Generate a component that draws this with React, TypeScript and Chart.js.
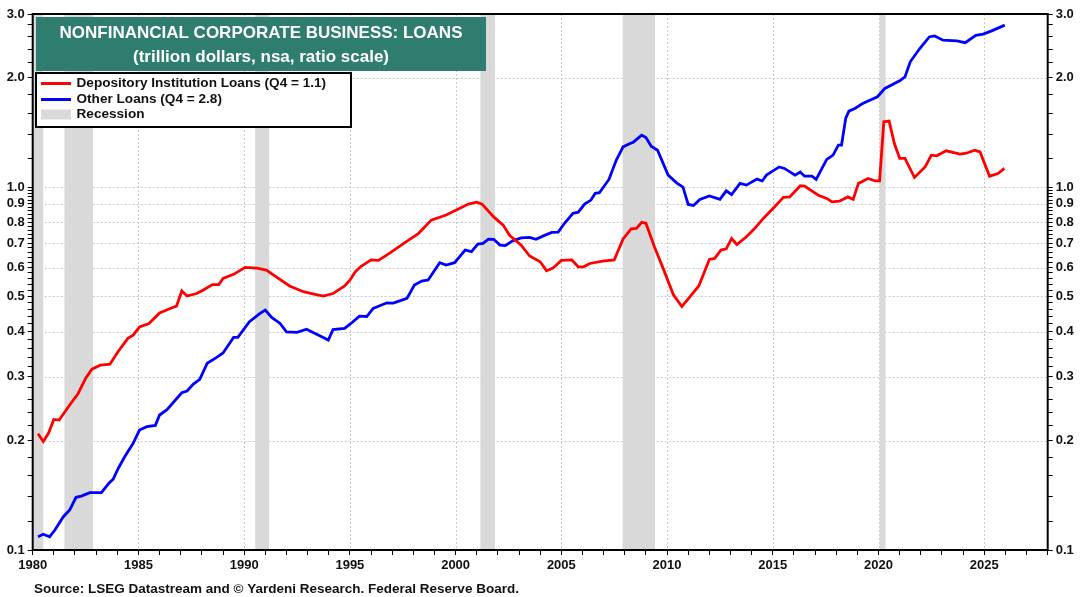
import React, { useEffect, useRef } from "react";
import { Chart, registerables } from "chart.js";

Chart.register(...registerables);

// ---------- DATA ----------
const depYears = [
  1980.25, 1980.5, 1980.75, 1981.0, 1981.25, 1981.75, 1982.15, 1982.5, 1982.8, 1983.2,
  1983.65, 1984.05, 1984.5, 1984.75, 1985.05, 1985.5, 1986.0, 1986.5, 1986.8, 1987.05,
  1987.3, 1987.75, 1988.05, 1988.5, 1988.8, 1989.0, 1989.5, 1990.05, 1990.6, 1991.05,
  1991.55, 1992.15, 1992.8, 1993.35, 1993.75, 1994.2, 1994.75, 1995.0, 1995.25, 1995.5,
  1996.0, 1996.35, 1996.9, 1997.6, 1998.25, 1998.85, 1999.55, 2000.2, 2000.6, 2001.0,
  2001.25, 2001.8, 2002.25, 2002.55, 2003.1, 2003.5, 2004.0, 2004.3, 2004.6, 2005.0,
  2005.5, 2005.8, 2006.05, 2006.35, 2006.95, 2007.5, 2007.92, 2008.3, 2008.55, 2008.8,
  2009.0, 2009.4, 2009.8, 2010.3, 2010.7, 2011.0, 2011.5, 2012.0, 2012.25, 2012.55,
  2012.8, 2013.05, 2013.3, 2013.75, 2014.15, 2014.55, 2015.1, 2015.5, 2015.8, 2016.3,
  2016.5, 2017.15, 2017.55, 2017.8, 2018.15, 2018.55, 2018.8, 2019.05, 2019.5, 2019.85,
  2020.05, 2020.25, 2020.5, 2020.75, 2021.0, 2021.25, 2021.7, 2022.2, 2022.5, 2022.75,
  2023.2, 2023.85, 2024.15, 2024.55, 2024.8, 2025.25, 2025.65, 2025.95,
];
const depValues = [
  0.209, 0.199, 0.21, 0.229, 0.228, 0.251, 0.27, 0.297, 0.315, 0.323,
  0.325, 0.353, 0.383, 0.391, 0.412, 0.421, 0.45, 0.463, 0.47, 0.517,
  0.501, 0.509, 0.52, 0.539, 0.539, 0.56, 0.575, 0.601, 0.598, 0.591,
  0.564, 0.534, 0.515, 0.506, 0.501, 0.509, 0.534, 0.554, 0.584, 0.603,
  0.63, 0.628, 0.659, 0.703, 0.746, 0.811, 0.838, 0.874, 0.898, 0.909,
  0.898, 0.828, 0.786, 0.737, 0.692, 0.646, 0.623, 0.588, 0.598, 0.628,
  0.63, 0.603, 0.603, 0.616, 0.625, 0.63, 0.72, 0.767, 0.77, 0.8,
  0.795, 0.685, 0.6, 0.505, 0.469, 0.492, 0.534, 0.632, 0.636, 0.671,
  0.676, 0.722, 0.695, 0.73, 0.77, 0.82, 0.884, 0.937, 0.94, 1.009,
  1.007, 0.95, 0.931, 0.911, 0.915, 0.94, 0.925, 1.024, 1.057, 1.04,
  1.04, 1.514, 1.52, 1.319, 1.2, 1.2, 1.063, 1.137, 1.225, 1.22,
  1.259, 1.233, 1.24, 1.264, 1.25, 1.072, 1.09, 1.126,
];

const othYears = [
  1980.25, 1980.5, 1980.8, 1981.05, 1981.45, 1981.75, 1982.05, 1982.3, 1982.7, 1983.25,
  1983.6, 1983.8, 1984.05, 1984.35, 1984.75, 1985.05, 1985.4, 1985.8, 1986.0, 1986.35,
  1987.05, 1987.3, 1987.6, 1987.9, 1988.25, 1988.7, 1989.0, 1989.5, 1989.7, 1990.25,
  1990.75, 1991.0, 1991.3, 1991.7, 1992.0, 1992.5, 1992.95, 1993.5, 1993.98, 1994.2,
  1994.75, 1995.05, 1995.45, 1995.8, 1996.1, 1996.75, 1997.05, 1997.35, 1997.7, 1998.05,
  1998.4, 1998.7, 1999.25, 1999.55, 1999.95, 2000.45, 2000.75, 2001.05, 2001.3, 2001.55,
  2001.8, 2002.1, 2002.35, 2002.7, 2003.1, 2003.5, 2003.8, 2004.15, 2004.55, 2004.85,
  2005.15, 2005.55, 2005.8, 2006.1, 2006.4, 2006.6, 2006.8, 2007.25, 2007.6, 2007.92,
  2008.25, 2008.4, 2008.8, 2009.0, 2009.25, 2009.55, 2010.05, 2010.45, 2010.75, 2011.0,
  2011.25, 2011.55, 2012.0, 2012.5, 2012.8, 2013.05, 2013.45, 2013.75, 2014.25, 2014.5,
  2014.7, 2015.3, 2015.55, 2016.05, 2016.3, 2016.5, 2016.85, 2017.05, 2017.55, 2017.85,
  2018.1, 2018.25, 2018.45, 2018.6, 2018.9, 2019.25, 2019.95, 2020.3, 2021.0, 2021.25,
  2021.5, 2021.95, 2022.4, 2022.65, 2023.05, 2023.7, 2024.1, 2024.6, 2024.95, 2025.35,
  2025.97,
];
const othValues = [
  0.1088, 0.1105, 0.1088, 0.1135, 0.1235, 0.1289, 0.1397, 0.1408, 0.1439, 0.1439,
  0.1527, 0.1566, 0.168, 0.1807, 0.1968, 0.2141, 0.2187, 0.2205, 0.2355, 0.2436,
  0.2713, 0.2742, 0.2867, 0.2954, 0.3269, 0.3396, 0.349, 0.3855, 0.3855, 0.4256,
  0.449, 0.4585, 0.4375, 0.421, 0.399, 0.398, 0.406, 0.391, 0.379, 0.405,
  0.408, 0.421, 0.441, 0.44, 0.463, 0.48, 0.479, 0.486, 0.4936, 0.537,
  0.551, 0.555, 0.619, 0.61, 0.619, 0.671, 0.664, 0.697, 0.7, 0.719,
  0.718, 0.692, 0.69, 0.711, 0.725, 0.727, 0.718, 0.734, 0.75, 0.752,
  0.795, 0.847, 0.853, 0.898, 0.921, 0.961, 0.965, 1.05, 1.187, 1.291,
  1.319, 1.33, 1.391, 1.37, 1.297, 1.264, 1.079, 1.028, 1.0, 0.896,
  0.89, 0.925, 0.946, 0.925, 0.977, 0.954, 1.024, 1.013, 1.052, 1.04,
  1.079, 1.137, 1.126, 1.079, 1.1, 1.072, 1.072, 1.05, 1.192, 1.225,
  1.306, 1.306, 1.55, 1.62, 1.65, 1.7, 1.774, 1.871, 1.963, 2.013,
  2.215, 2.41, 2.594, 2.61, 2.54, 2.53, 2.5, 2.62, 2.64, 2.696,
  2.795,
];

const recessionStarts = [1980.0, 1981.5, 1990.52, 2001.17, 2007.9, 2020.05];
const recessionEnds = [1980.5, 1982.85, 1991.18, 2001.86, 2009.43, 2020.33];

const yMajorTicks = [0.1, 0.2, 0.3, 0.4, 0.5, 0.6, 0.7, 0.8, 0.9, 1.0, 2.0, 3.0];
const yMinorTicks = [
  0.12, 0.14, 0.16, 0.18, 0.22, 0.24, 0.26, 0.28, 0.32, 0.34, 0.36, 0.38,
  0.42, 0.44, 0.46, 0.48, 0.52, 0.54, 0.56, 0.58, 0.62, 0.64, 0.66, 0.68,
  0.72, 0.74, 0.76, 0.78, 0.82, 0.84, 0.86, 0.88, 0.92, 0.94, 0.96, 0.98,
  1.2, 1.4, 1.6, 1.8, 2.2, 2.4, 2.6, 2.8,
];
const yGridValues = [0.2, 0.3, 0.4, 0.5, 0.6, 0.7, 0.8, 0.9, 1.0, 2.0];
const xGridYears = [1985, 1990, 1995, 2000, 2005, 2010, 2015, 2020, 2025];

const titleLine1 = "NONFINANCIAL CORPORATE BUSINESS: LOANS";
const titleLine2 = "(trillion dollars, nsa, ratio scale)";
const legendLabels = [
  "Depository Institution Loans (Q4 = 1.1)",
  "Other Loans (Q4 = 2.8)",
  "Recession",
];
const sourceText = "Source: LSEG Datastream and \u00A9 Yardeni Research. Federal Reserve Board.";

const FONT = '"Liberation Sans", Arial, sans-serif';
const RED = "#ff0000";
const BLUE = "#0000ff";
const SHADE = "#d9d9d9";

const decorPlugin = {
  id: "decor",
  beforeDatasetsDraw(chart: any) {
    const { ctx, chartArea: a, scales } = chart;
    const xs = scales.x;
    const ys = scales.y;
    ctx.save();
    ctx.beginPath();
    ctx.rect(a.left, a.top, a.right - a.left, a.bottom - a.top);
    ctx.clip();
    // dotted grid
    ctx.strokeStyle = "#c8c8c8";
    ctx.lineWidth = 1;
    ctx.setLineDash([2, 2]);
    xGridYears.forEach((v) => {
      const px = Math.round(xs.getPixelForValue(v)) + 0.5;
      ctx.beginPath();
      ctx.moveTo(px, a.top);
      ctx.lineTo(px, a.bottom);
      ctx.stroke();
    });
    yGridValues.forEach((v) => {
      const py = Math.round(ys.getPixelForValue(v)) + 0.5;
      ctx.beginPath();
      ctx.moveTo(a.left, py);
      ctx.lineTo(a.right, py);
      ctx.stroke();
    });
    ctx.setLineDash([]);
    // recessions
    ctx.fillStyle = SHADE;
    recessionStarts.forEach((s, i) => {
      const x1 = xs.getPixelForValue(s);
      const x2 = xs.getPixelForValue(recessionEnds[i]);
      ctx.fillRect(x1, a.top, x2 - x1, a.bottom - a.top);
    });
    ctx.restore();
  },
  afterDatasetsDraw(chart: any) {
    const { ctx, chartArea: a } = chart;
    ctx.save();
    // frame
    ctx.strokeStyle = "#000";
    ctx.lineWidth = 2;
    ctx.strokeRect(a.left, a.top, a.right - a.left, a.bottom - a.top);

    // title box
    const tx = 36, ty = 17, tw = 450, th = 54;
    ctx.fillStyle = "#2e7d6f";
    ctx.fillRect(tx, ty, tw, th);
    ctx.fillStyle = "#ffffff";
    ctx.font = `bold 17px ${FONT}`;
    ctx.textAlign = "center";
    ctx.textBaseline = "middle";
    ctx.fillText(titleLine1, tx + tw / 2, 33);
    ctx.fillText(titleLine2, tx + tw / 2, 57);

    // legend box
    const lx = 36, ly = 73, lw = 315, lh = 54;
    ctx.fillStyle = "#ffffff";
    ctx.fillRect(lx, ly, lw, lh);
    ctx.strokeStyle = "#000";
    ctx.lineWidth = 2;
    ctx.strokeRect(lx, ly, lw, lh);
    const rows = [83.5, 99.5, 114.5];
    ctx.lineWidth = 3;
    ctx.strokeStyle = RED;
    ctx.beginPath();
    ctx.moveTo(41, rows[0]);
    ctx.lineTo(71, rows[0]);
    ctx.stroke();
    ctx.strokeStyle = BLUE;
    ctx.beginPath();
    ctx.moveTo(41, rows[1]);
    ctx.lineTo(71, rows[1]);
    ctx.stroke();
    ctx.fillStyle = SHADE;
    ctx.fillRect(41, rows[2] - 5, 30, 10);
    ctx.fillStyle = "#111";
    ctx.font = `bold 13.6px ${FONT}`;
    ctx.textAlign = "left";
    ctx.textBaseline = "middle";
    legendLabels.forEach((t, i) => ctx.fillText(t, 76.5, rows[i]));

    // source
    ctx.font = `bold 13.5px ${FONT}`;
    ctx.fillStyle = "#111";
    ctx.fillText(sourceText, 34, 589);
    ctx.restore();
  },
};

const yTickCallback = (value: any) => {
  const v = Number(value);
  const isMajor = yMajorTicks.some((m) => Math.abs(m - v) < 1e-6);
  return isMajor ? v.toFixed(1) : "";
};

const setYTicks = (scale: any) => {
  const all = [...yMajorTicks, ...yMinorTicks].sort((p, q) => p - q);
  scale.ticks = all.map((v) => ({ value: v, major: yMajorTicks.includes(v) }));
};

export default function App() {
  const ref = useRef<HTMLCanvasElement>(null);
  useEffect(() => {
    if (!ref.current) return;
    const depData = depYears.map((x, i) => ({ x, y: depValues[i] }));
    const othData = othYears.map((x, i) => ({ x, y: othValues[i] }));
    const tickFont = { family: FONT, size: 13, weight: "bold" as const };
    const chart = new Chart(ref.current, {
      type: "line",
      data: {
        datasets: [
          {
            label: legendLabels[0],
            data: depData,
            borderColor: RED,
            borderWidth: 2.8,
            pointRadius: 0,
            tension: 0,
            yAxisID: "y",
          },
          {
            label: legendLabels[1],
            data: othData,
            borderColor: BLUE,
            borderWidth: 2.8,
            pointRadius: 0,
            tension: 0,
            yAxisID: "y",
          },
        ],
      },
      options: {
        responsive: false,
        animation: false,
        devicePixelRatio: 1,
        layout: { padding: { top: 14, left: 0, right: 0, bottom: 0 } },
        plugins: {
          legend: { display: false },
          title: { display: false },
          tooltip: { enabled: false },
        },
        scales: {
          x: {
            type: "linear",
            min: 1980,
            max: 2028,
            afterFit: (s: any) => {
              s.height = 47;
            },
            border: { display: false },
            grid: {
              display: true,
              drawOnChartArea: false,
              drawTicks: true,
              tickLength: 5,
              tickColor: "#000",
              tickWidth: 1,
            },
            ticks: {
              stepSize: 1,
              autoSkip: false,
              maxRotation: 0,
              padding: 3,
              color: "#111",
              font: tickFont,
              callback: (v: any) => {
                const n = Math.round(Number(v));
                return n % 5 === 0 && n <= 2025 ? String(n) : "";
              },
            },
          },
          y: {
            type: "logarithmic",
            position: "left",
            min: 0.1,
            max: 3,
            afterBuildTicks: setYTicks,
            afterFit: (s: any) => {
              s.width = 32.7;
            },
            border: { display: false },
            grid: {
              display: true,
              drawOnChartArea: false,
              drawTicks: true,
              tickLength: 5,
              tickColor: "#000",
              tickWidth: 1,
            },
            ticks: {
              autoSkip: false,
              padding: 3,
              color: "#111",
              font: tickFont,
              callback: yTickCallback,
            },
          },
          y2: {
            type: "logarithmic",
            position: "right",
            min: 0.1,
            max: 3,
            afterBuildTicks: setYTicks,
            afterFit: (s: any) => {
              s.width = 32.3;
            },
            border: { display: false },
            grid: {
              display: true,
              drawOnChartArea: false,
              drawTicks: true,
              tickLength: 5,
              tickColor: "#000",
              tickWidth: 1,
            },
            ticks: {
              autoSkip: false,
              padding: 3,
              color: "#111",
              font: tickFont,
              callback: yTickCallback,
            },
          },
        },
      },
      plugins: [decorPlugin],
    } as any);
    return () => chart.destroy();
  }, []);
  return (
    <div style={{ position: "fixed", left: 0, top: 0, width: 1080, height: 597, background: "#fff" }}>
      <canvas ref={ref} width={1080} height={597} style={{ display: "block" }} />
    </div>
  );
}
